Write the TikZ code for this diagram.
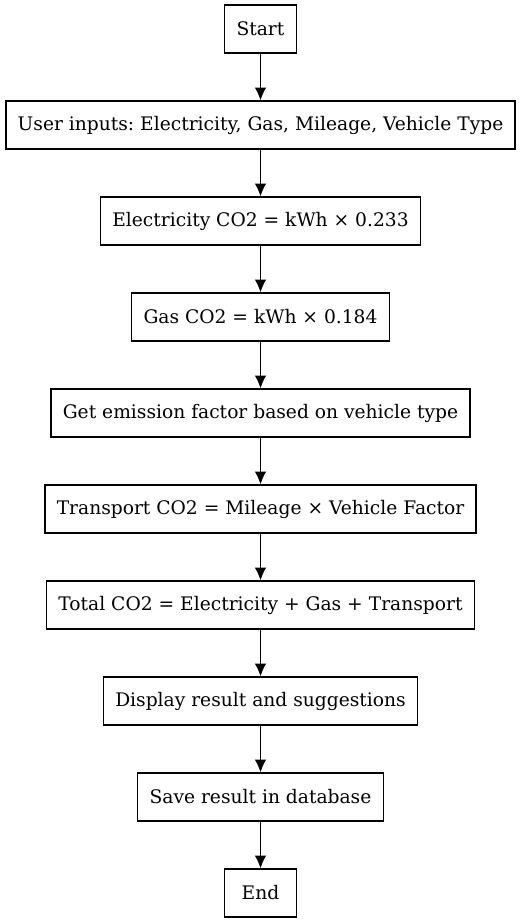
\documentclass[tikz,border=0pt]{standalone}
\usepackage{fontspec}
\setmainfont{DejaVu Serif}
\usepackage{tikz}
\usetikzlibrary{
    arrows.meta,
    positioning
}
\frenchspacing

\begin{document}
\begin{tikzpicture}[x=0.75pt, y=0.75pt, >={Latex[length=9.5pt, width=8.5pt]},
    process/.style={draw, rectangle, line width=0.9pt, minimum height=36pt, minimum width=54pt, inner xsep=8.8pt, font=\fontsize{14}{17}\selectfont}]
                        \useasboundingbox (0, 0) rectangle (521, -923);
                        \node[process] (start) at (260.5, -29) {Start};
                        \node[process] (inputs) at (260.5, -125) {User inputs: Electricity, Gas, Mileage, Vehicle Type};
                        \node[process] (elec) at (260.5, -221) {Electricity CO2 = kWh × 0.233};
                        \node[process] (gas) at (260.5, -317) {Gas CO2 = kWh × 0.184};
                        \node[process] (factor) at (260.5, -413) {Get emission factor based on vehicle type};
                        \node[process] (transport) at (260.5, -509) {Transport CO2 = Mileage × Vehicle Factor};
                        \node[process] (total) at (260.5, -605) {Total CO2 = Electricity + Gas + Transport};
                        \node[process] (display) at (260.5, -701) {Display result and suggestions};
                        \node[process] (save) at (260.5, -797) {Save result in database};
                        \node[process] (end) at (260.5, -893) {End};
                        \draw[line width=0.9pt]
                        (start) edge[->] (inputs)
                        (inputs) edge[->] (elec)
                        (elec) edge[->] (gas)
                        (gas) edge[->] (factor)
                        (factor) edge[->] (transport)
                        (transport) edge[->] (total)
                        (total) edge[->] (display)
                        (display) edge[->] (save)
                        (save) edge[->] (end);
                    \end{tikzpicture}
\end{document}
